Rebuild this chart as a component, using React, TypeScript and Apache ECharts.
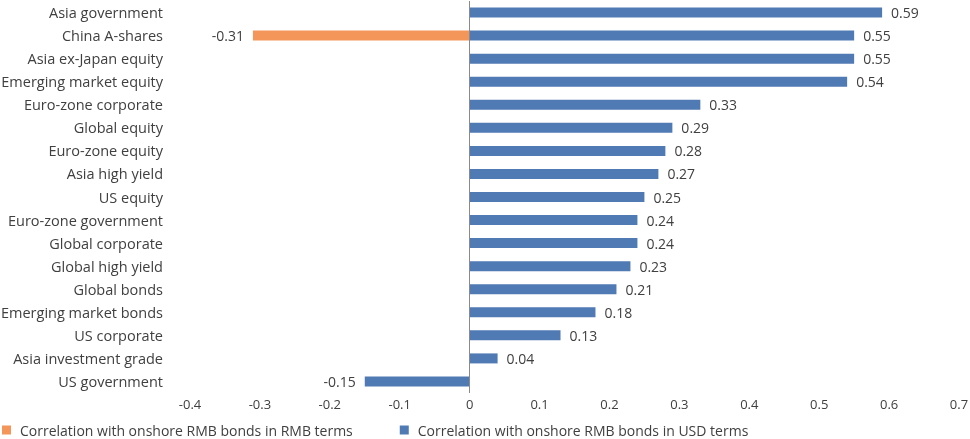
import React, { useEffect, useRef } from "react";
import * as echarts from "echarts";

const categories = [
  "Asia government",
  "China A-shares",
  "Asia ex-Japan equity",
  "Emerging market equity",
  "Euro-zone corporate",
  "Global equity",
  "Euro-zone equity",
  "Asia high yield",
  "US equity",
  "Euro-zone government",
  "Global corporate",
  "Global high yield",
  "Global bonds",
  "Emerging market bonds",
  "US corporate",
  "Asia investment grade",
  "US government",
];

const usdTerms = [0.59, 0.55, 0.55, 0.54, 0.33, 0.29, 0.28, 0.27, 0.25, 0.24, 0.24, 0.23, 0.21, 0.18, 0.13, 0.04, -0.15];
const rmbTerms: (number | null)[] = [null, -0.31, null, null, null, null, null, null, null, null, null, null, null, null, null, null, null];

const seriesNames = [
  "Correlation with onshore RMB bonds in RMB terms",
  "Correlation with onshore RMB bonds in USD terms",
];

const FONT = "Open Sans";
const TEXT = "#404040";

export default function App() {
  const ref = useRef<HTMLDivElement>(null);
  useEffect(() => {
    if (!ref.current) return;
    const chart = echarts.init(ref.current, undefined, { renderer: "svg" });
    const mk = (arr: (number | null)[]) =>
      arr.map((v) =>
        v === null
          ? null
          : { value: v, label: { position: v < 0 ? "left" : "right" } }
      );
    chart.setOption({
      animation: false,
      textStyle: { fontFamily: FONT, color: TEXT },
      grid: {
        left: 190,
        right: 11,
        top: 1,
        bottom: 46,
        containLabel: false,
        outerBoundsMode: "none",
      },
      xAxis: {
        type: "value",
        min: -0.4,
        max: 0.7,
        interval: 0.1,
        axisLine: { show: false },
        axisTick: { show: false },
        splitLine: { show: false },
        axisLabel: {
          color: TEXT,
          fontSize: 13,
          fontFamily: FONT,
          margin: 4,
          formatter: (v: number) => String(Math.round(v * 10) / 10),
        },
      },
      yAxis: {
        type: "category",
        data: categories,
        inverse: true,
        axisLine: { show: false, onZero: false },
        axisTick: { show: false },
        axisLabel: { color: TEXT, fontSize: 14.5, fontFamily: FONT, margin: 27 },
      },
      legend: {
        left: 2,
        top: 423,
        padding: 0,
        itemWidth: 9,
        itemHeight: 9,
        itemGap: 47,
        icon: "rect",
        textStyle: { color: TEXT, fontSize: 14, fontFamily: FONT, padding: [0, 0, 0, 4] },
        data: seriesNames,
      },
      series: [
        {
          name: seriesNames[0],
          type: "bar",
          stack: "s",
          barWidth: 10,
          itemStyle: { color: "#F4955A" },
          label: { show: true, color: TEXT, fontSize: 14, fontFamily: FONT, distance: 9 },
          data: mk(rmbTerms),
        },
        {
          name: seriesNames[1],
          type: "bar",
          stack: "s",
          barWidth: 10,
          itemStyle: { color: "#4F7AB3" },
          label: { show: true, color: TEXT, fontSize: 14, fontFamily: FONT, distance: 9 },
          data: mk(usdTerms),
          markLine: {
            silent: true,
            symbol: "none",
            label: { show: false },
            lineStyle: { color: "#8a8a8a", type: "solid", width: 1 },
            data: [{ xAxis: 0 }],
          },
        },
      ],
    });
    return () => chart.dispose();
  }, []);
  return (
    <div
      ref={ref}
      style={{ position: "fixed", left: 0, top: 0, width: 970, height: 439 }}
    />
  );
}
